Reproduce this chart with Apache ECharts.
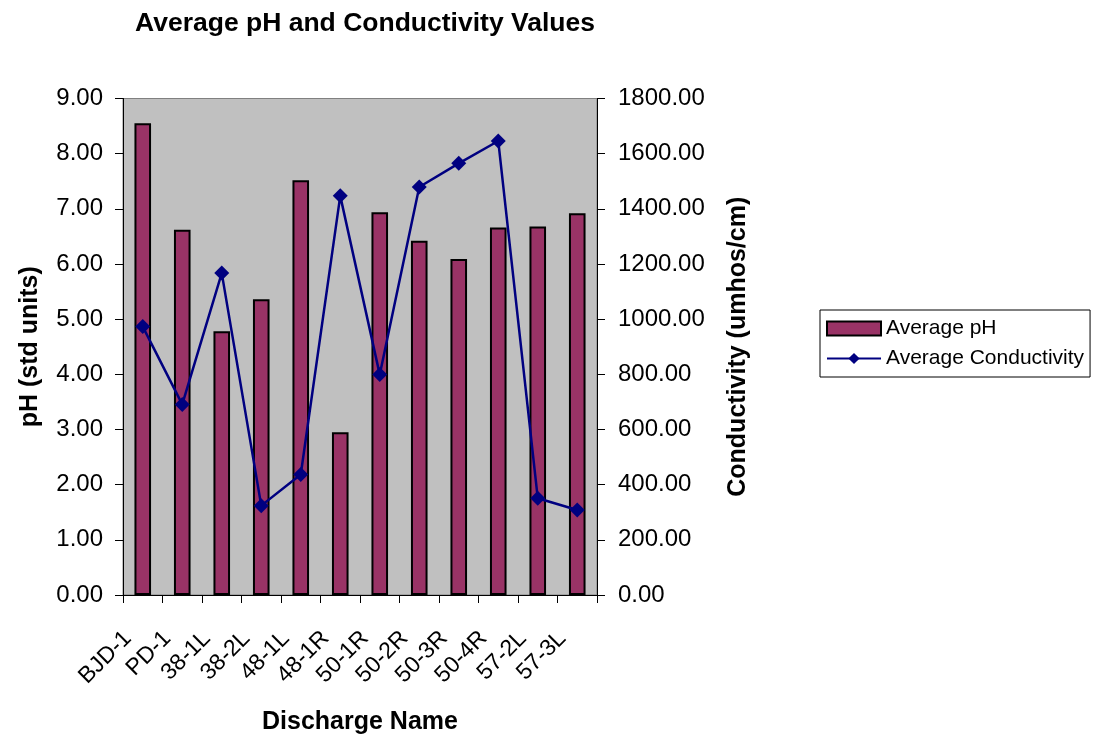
<!DOCTYPE html>
<html>
<head>
<meta charset="utf-8">
<script src="https://cdn.jsdelivr.net/npm/echarts@6/dist/echarts.min.js"></script>
<style>
  html, body { margin: 0; padding: 0; background: #fff; }
  #chart { width: 1093px; height: 740px; }
</style>
</head>
<body>
<div id="chart"></div>
<script>
const categories = ["BJD-1", "PD-1", "38-1L", "38-2L", "48-1L", "48-1R", "50-1R", "50-2R", "50-3R", "50-4R", "57-2L", "57-3L"];
const avgPH = [8.55, 6.62, 4.78, 5.36, 7.52, 2.95, 6.94, 6.42, 6.09, 6.66, 6.68, 6.92];
const avgConductivity = [973, 691, 1167, 324, 437, 1447, 799, 1479, 1565, 1646, 351, 308];

const font = "Arial, 'Liberation Sans', sans-serif";
const chart = echarts.init(document.getElementById("chart"));

const option = {
  backgroundColor: "#fff",
  animation: false,
  textStyle: { fontFamily: font, color: "#000" },
  title: {
    text: "Average pH and Conductivity Values",
    left: 360, top: 5, textAlign: "center",
    textStyle: { fontSize: 26.5, fontWeight: "bold", color: "#000", fontFamily: font }
  },
  legend: {
    orient: "vertical",
    left: 820, top: 310,
    padding: [8, 6, 8, 6],
    itemGap: 9,
    itemWidth: 54, itemHeight: 14,
    borderColor: "#000", borderWidth: 1,
    textStyle: { fontSize: 21, color: "#000", fontFamily: font },
    data: [
      { name: "Average pH", icon: "rect" },
      { name: "Average Conductivity" }
    ]
  },
  grid: {
    left: 123, top: 98.5, width: 474, height: 498.5,
    show: true, backgroundColor: "#c0c0c0", borderColor: "#808080", borderWidth: 1
  },
  xAxis: {
    type: "category",
    data: categories,
    name: "Discharge Name",
    nameLocation: "middle",
    nameGap: 115,
    nameTextStyle: { fontSize: 25, fontWeight: "bold", color: "#000" },
    axisLine: { lineStyle: { color: "#000", width: 1 } },
    axisTick: { show: true, length: 8, inside: false, lineStyle: { color: "#000" } },
    axisLabel: { rotate: 45, fontSize: 23, color: "#000", margin: 25, interval: 0, padding: [0, 21, 0, 0] },
    splitLine: { show: false }
  },
  yAxis: [
    {
      type: "value",
      min: 0, max: 9, interval: 1,
      name: "pH (std units)",
      nameLocation: "middle",
      nameGap: 80,
      nameTextStyle: { fontSize: 25, fontWeight: "bold", color: "#000" },
      axisLine: { show: true, lineStyle: { color: "#000" } },
      axisTick: { show: true, length: 8, lineStyle: { color: "#000" } },
      axisLabel: { fontSize: 24, color: "#000", margin: 20, formatter: v => v.toFixed(2) },
      splitLine: { show: false }
    },
    {
      type: "value",
      min: 0, max: 1800, interval: 200,
      name: "Conductivity (umhos/cm)",
      nameLocation: "middle",
      nameGap: 129,
      nameRotate: 90,
      nameTextStyle: { fontSize: 25, fontWeight: "bold", color: "#000" },
      axisLine: { show: true, lineStyle: { color: "#000" } },
      axisTick: { show: true, length: 8, lineStyle: { color: "#000" } },
      axisLabel: { fontSize: 24, color: "#000", margin: 21, formatter: v => v.toFixed(2) },
      splitLine: { show: false }
    }
  ],
  series: [
    {
      name: "Average pH",
      type: "bar",
      yAxisIndex: 0,
      data: avgPH,
      barWidth: "42%",
      itemStyle: { color: "#993366", borderColor: "#000", borderWidth: 2 }
    },
    {
      name: "Average Conductivity",
      type: "line",
      yAxisIndex: 1,
      data: avgConductivity,
      symbol: "diamond",
      symbolSize: 15,
      lineStyle: { color: "#000080", width: 2.5 },
      itemStyle: { color: "#000080" }
    }
  ]
};

chart.setOption(option);
</script>
</body>
</html>
